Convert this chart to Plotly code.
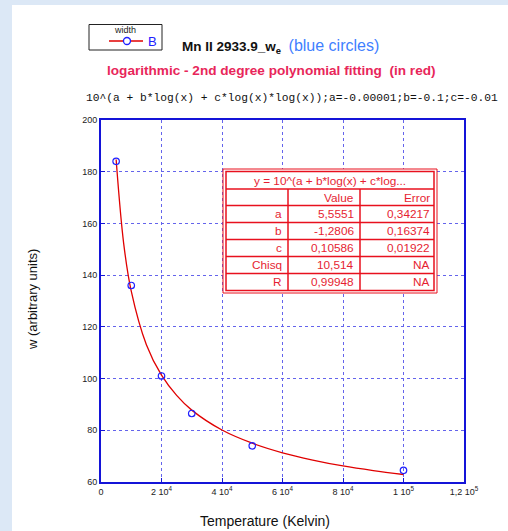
import plotly.graph_objects as go

# Measured data (blue circles)
temperature = [5000, 10000, 20000, 30000, 50000, 100000]
width_w = [184, 136, 101, 86.5, 74, 64.5]

# Fitted curve (red)
fit_x = [5000, 7500, 10000, 15000, 20000, 25000, 30000, 40000, 50000,
         60000, 70000, 80000, 90000, 100000]
fit_y = [184.7, 152.2, 133.8, 113.1, 101.3, 93.5, 87.8, 80.1, 75.0,
         71.3, 68.5, 66.2, 64.4, 62.9]

# Tick labels
x_tickvals = [0, 20000, 40000, 60000, 80000, 100000, 120000]
x_ticktext = ["0", "2 10<sup>4</sup>", "4 10<sup>4</sup>", "6 10<sup>4</sup>",
              "8 10<sup>4</sup>", "1 10<sup>5</sup>", "1,2 10<sup>5</sup>"]
y_tickvals = [60, 80, 100, 120, 140, 160, 180, 200]

# Fit result table
table_title = "y = 10^(a + b*log(x) + c*log..."
col_headers = ["", "Value", "Error"]
param_names = ["a", "b", "c", "Chisq", "R"]
param_values = ["5,5551", "-1,2806", "0,10586", "10,514", "0,99948"]
param_errors = ["0,34217", "0,16374", "0,01922", "NA", "NA"]

W, H = 508, 531
L, R, T, B = 101, 464, 120, 482  # plot area in pixels

def px(x):
    return (x - L) / (R - L)

def py(y):
    return (B - y) / (B - T)

BLUE = "#1414d8"
RED = "#e8101e"
TRED = "#e61e32"

fig = go.Figure()
fig.add_trace(go.Scatter(x=fit_x, y=fit_y, mode="lines",
                         line=dict(color="#e00000", width=1.3, shape="spline"),
                         showlegend=False))
fig.add_trace(go.Scatter(x=temperature, y=width_w, mode="markers",
                         marker=dict(symbol="circle-open", size=6.5, color="#2020ff",
                                     line=dict(width=1.2)),
                         showlegend=False))

shapes = []
# white panel over light-blue page
shapes.append(dict(type="rect", xref="paper", yref="paper", x0=px(12), x1=px(W + 5),
                   y0=py(5), y1=py(H + 5), fillcolor="white", line=dict(width=0),
                   layer="below"))

def rect(x0, y0, x1, y1, w=1, color=RED, fill="rgba(0,0,0,0)"):
    shapes.append(dict(type="rect", xref="paper", yref="paper", x0=px(x0), x1=px(x1),
                       y0=py(y0), y1=py(y1), line=dict(color=color, width=w),
                       fillcolor=fill))

def hline(x0, x1, y, w=1, color=RED):
    shapes.append(dict(type="line", xref="paper", yref="paper", x0=px(x0), x1=px(x1),
                       y0=py(y), y1=py(y), line=dict(color=color, width=w)))

def vline(x, y0, y1, w=1):
    shapes.append(dict(type="line", xref="paper", yref="paper", x0=px(x), x1=px(x),
                       y0=py(y0), y1=py(y1), line=dict(color=RED, width=w)))

# legend box
rect(89, 24.5, 162, 50, 1, "#222222", "white")
hline(109, 143, 41, 1.3, "#e00000")
shapes.append(dict(type="circle", xref="paper", yref="paper", x0=px(123.5), x1=px(130.5),
                   y0=py(37.5), y1=py(44.5), line=dict(color="#2020ff", width=1.3),
                   fillcolor="white"))

# table
rect(223, 169, 437, 293, 1, RED, "white")
rect(226, 171.5, 434, 290.5, 1.5)
row_lines = [189, 205.5, 222.5, 239.5, 256.5, 273.5]
for yy in row_lines:
    hline(226, 434, yy, 1.5)
vline(288, 189, 290.5, 1.5)
vline(360, 189, 290.5, 1.5)

ann = []
tfont = dict(family="Arial", size=11.8, color=TRED)
ann.append(dict(x=px(330), y=py(180.5), text=table_title, showarrow=False, font=tfont,
                xref="paper", yref="paper", xanchor="center", yanchor="middle"))
col_right = [284, 356, 432]
row_mid = [197.5, 214, 231, 248, 265, 282]
rows = [col_headers] + [[n, v, e] for n, v, e in zip(param_names, param_values, param_errors)]
for r, row in enumerate(rows):
    for c, txt in enumerate(row):
        if txt:
            ann.append(dict(x=px(col_right[c]), y=py(row_mid[r]), text=txt, showarrow=False,
                            font=tfont, xref="paper", yref="paper", xanchor="right",
                            yanchor="middle"))

# legend texts
ann.append(dict(x=px(125), y=py(30), xref="paper", yref="paper", showarrow=False,
                xanchor="center", yanchor="middle", text="width",
                font=dict(family="Arial", size=9, color="#222222")))
ann.append(dict(x=px(146), y=py(41), xref="paper", yref="paper", showarrow=False,
                xanchor="left", yanchor="middle", text="B",
                font=dict(family="Arial", size=13, color="#2020ff")))

# titles
ann.append(dict(x=px(180), y=py(47), xref="paper", yref="paper", showarrow=False,
                xanchor="left", yanchor="middle",
                text="<b>Mn II 2933.9_w<sub>e</sub></b>  <span style='color:#3f7fff;font-size:16px'>(blue circles)</span>",
                font=dict(family="Arial", size=13.5, color="#111111")))
ann.append(dict(x=px(271), y=py(71), xref="paper", yref="paper", showarrow=False,
                xanchor="center", yanchor="middle",
                text="<b>logarithmic - 2nd degree polynomial fitting  (in red)</b>",
                font=dict(family="Arial", size=13.6, color="#e8265a")))
ann.append(dict(x=px(292), y=py(98), xref="paper", yref="paper", showarrow=False,
                xanchor="center", yanchor="middle",
                text="10^(a + b*log(x) + c*log(x)*log(x));a=-0.00001;b=-0.1;c=-0.01",
                font=dict(family="Liberation Mono", size=11.25, color="#111111")))
ann.append(dict(x=px(32), y=py(300), xref="paper", yref="paper", showarrow=False,
                xanchor="center", yanchor="middle", textangle=-90,
                text="w (arbitrary units)", font=dict(family="Arial", size=13, color="#111111")))
ann.append(dict(x=px(265), y=py(521), xref="paper", yref="paper", showarrow=False,
                xanchor="center", yanchor="middle",
                text="Temperature (Kelvin)", font=dict(family="Arial", size=14, color="#111111")))

axis_common = dict(showline=True, linecolor=BLUE, linewidth=2, mirror=True,
                   showgrid=True, gridcolor="#6464ec", gridwidth=1, griddash="dot",
                   ticks="inside", ticklen=4, tickcolor=BLUE, zeroline=False,
                   tickfont=dict(family="Arial", size=9, color="#222222"))

fig.update_layout(
    width=W, height=H,
    margin=dict(l=L, r=W - R, t=T, b=H - B),
    paper_bgcolor="#dce8f6",
    plot_bgcolor="white",
    xaxis=dict(range=[0, 120000], tickvals=x_tickvals, ticktext=x_ticktext, **axis_common),
    yaxis=dict(range=[60, 200], tickvals=y_tickvals, **axis_common),
    shapes=shapes,
    annotations=ann,
    showlegend=False,
)

fig.write_html("out.html", config={"displayModeBar": False},
               post_script="document.body.style.margin='0';document.body.style.overflow='hidden';")
